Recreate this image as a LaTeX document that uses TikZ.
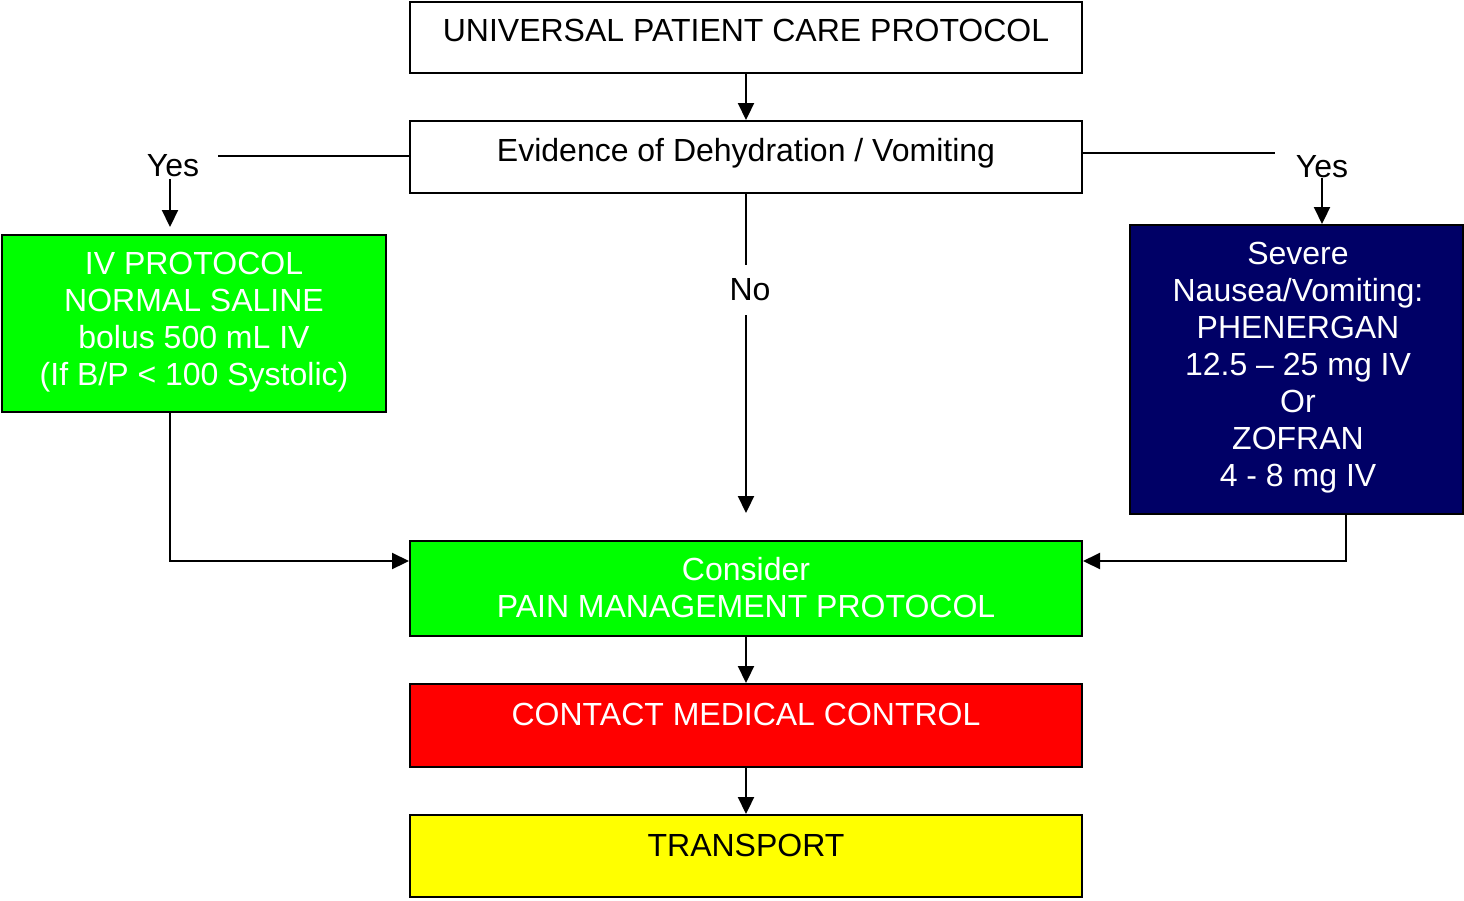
\documentclass[tikz,border=0pt]{standalone}
\usepackage{fontspec}
\setmainfont{Liberation Sans}
\usetikzlibrary{arrows.meta}
\definecolor{boxgreen}{RGB}{0,255,0}
\definecolor{boxnavy}{RGB}{0,0,102}
\definecolor{boxred}{RGB}{255,0,0}
\definecolor{boxyellow}{RGB}{255,255,0}
\begin{document}
\begin{tikzpicture}[x=1pt,y=-1pt,
  box/.style={draw=black, line width=2pt, rectangle, inner sep=0pt},
  txt/.style={inner sep=0pt, align=center, font=\fontsize{32}{37}\selectfont},
  wire/.style={line width=2.2pt},
  arr/.style={wire, -{Triangle[length=17pt,width=16pt]}}]
\useasboundingbox (0,0) rectangle (1464,900);

% boxes
\node[box, minimum width=672, minimum height=71] (b1) at (746,37.5) {};
\node[box, minimum width=672, minimum height=72] (b2) at (746,157) {};
\node[box, fill=boxgreen, minimum width=384, minimum height=177] (b3) at (194,323.5) {};
\node[box, fill=boxnavy, minimum width=333, minimum height=289] (b4) at (1296.5,369.5) {};
\node[box, fill=boxgreen, minimum width=672, minimum height=95] (b5) at (746,588.5) {};
\node[box, fill=boxred, minimum width=672, minimum height=83] (b6) at (746,725.5) {};
\node[box, fill=boxyellow, minimum width=672, minimum height=82] (b7) at (746,856) {};

% box texts
\node[txt, anchor=base] (t1) at (746,41) {UNIVERSAL PATIENT CARE PROTOCOL};
\node[txt, anchor=base] (t2) at (746,161) {Evidence of Dehydration / Vomiting};
\node[txt, text=white] (t3) at (194,322.6) {IV PROTOCOL\\NORMAL SALINE\\bolus 500 mL IV\\(If B/P < 100 Systolic)};
\node[txt, text=white] (t4) at (1298,367.4) {Severe\\Nausea/Vomiting:\\PHENERGAN\\12.5 -- 25 mg IV\\Or\\ZOFRAN\\4 - 8 mg IV};
\node[txt, text=white] (t5) at (746,588) {Consider\\PAIN MANAGEMENT PROTOCOL};
\node[txt, text=white, anchor=base] (t6) at (746,725) {CONTACT MEDICAL CONTROL};
\node[txt, anchor=base] (t7) at (746,856) {TRANSPORT};

% branch labels
\node[txt, anchor=base] (yesL) at (173,176) {Yes};
\node[txt, anchor=base] (yesR) at (1322,177) {Yes};
\node[txt, anchor=base] (no) at (750,300) {No};

% free ends and bends of the branch lines
\coordinate (lEnd) at (218,156);
\coordinate (rEnd) at (1275,153);
\coordinate (lDrop) at (170,179);
\coordinate (rDrop) at (1322,178);
\coordinate (noTop) at (746,265);
\coordinate (noBot) at (746,315);
\coordinate (noTip) at (746,513);
\coordinate (joinY) at (0,561);
\coordinate (rFall) at (1346,0);

% connectors
\draw[arr] (b1.south) -- (b2.north);
\draw[wire] (b2.west |- lEnd) -- (lEnd);
\draw[wire] (b2.east |- rEnd) -- (rEnd);
\draw[arr, shorten >=7pt] (lDrop) -- (lDrop |- b3.north);
\draw[arr] (rDrop) -- (rDrop |- b4.north);
\draw[wire] (b2.south) -- (noTop);
\draw[arr] (noBot) -- (noTip);
\draw[arr] (b3.south -| lDrop) |- (b5.west |- joinY);
\draw[arr] (b4.south -| rFall) |- (b5.east |- joinY);
\draw[arr] (b5.south) -- (b6.north);
\draw[arr] (b6.south) -- (b7.north);
\end{tikzpicture}
\end{document}
